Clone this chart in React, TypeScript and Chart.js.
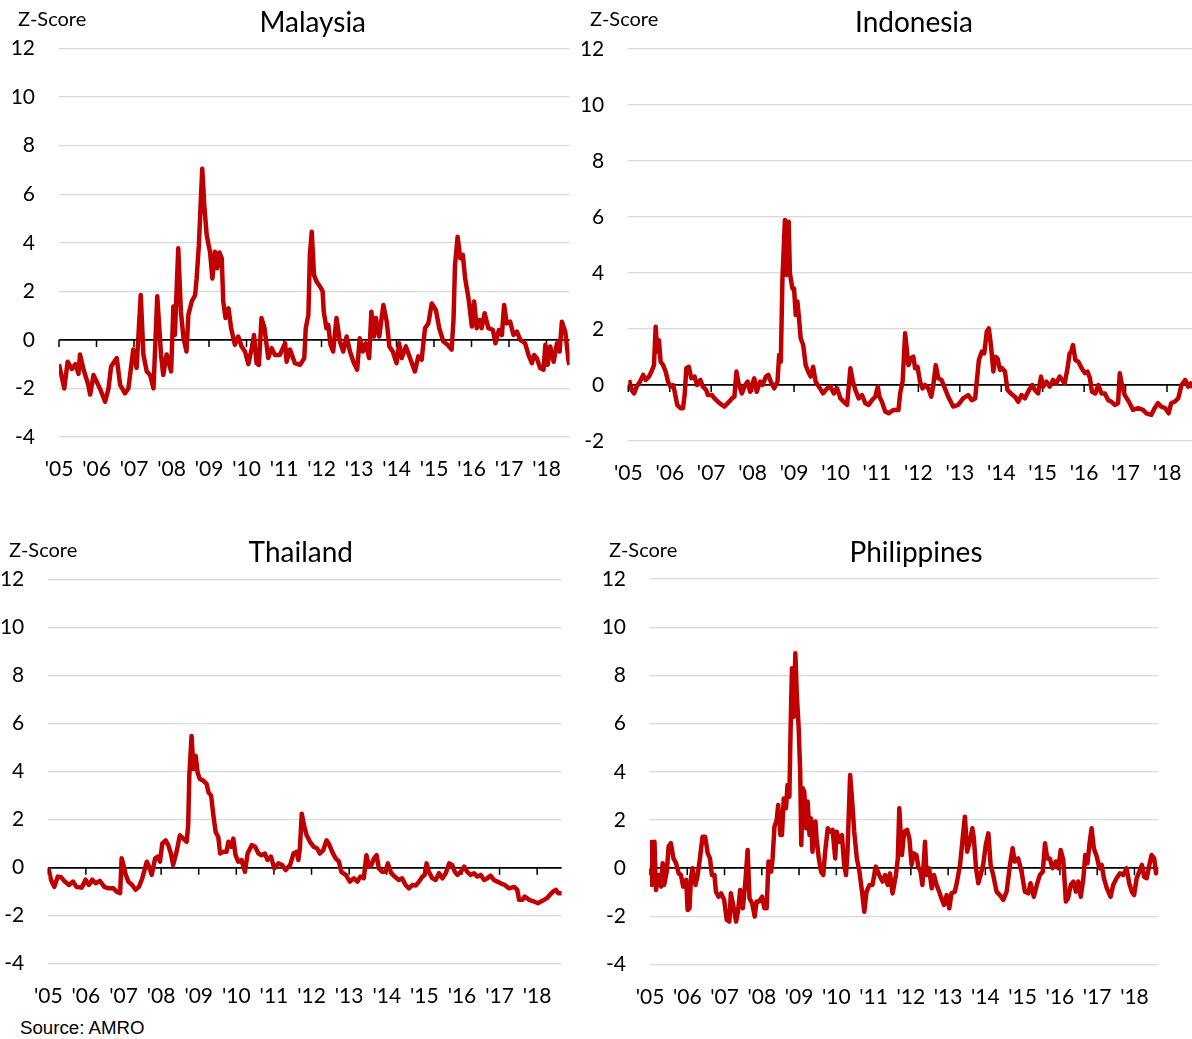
import React, { useEffect, useRef } from "react";
import { Chart, registerables } from "chart.js";

Chart.register(...registerables);

// ---------- data ----------
const tickYears = [2005, 2006, 2007, 2008, 2009, 2010, 2011, 2012, 2013, 2014, 2015, 2016, 2017, 2018];
const tickLabels = ["'05", "'06", "'07", "'08", "'09", "'10", "'11", "'12", "'13", "'14", "'15", "'16", "'17", "'18"];

const malaysiaYears = [
  2005.00, 2005.14, 2005.23, 2005.34, 2005.44, 2005.52, 2005.56, 2005.65, 2005.78, 2005.83,
  2005.92, 2006.09, 2006.23, 2006.32, 2006.39, 2006.54, 2006.63, 2006.76, 2006.85, 2006.92,
  2006.98, 2007.07, 2007.18, 2007.25, 2007.34, 2007.43, 2007.52, 2007.62, 2007.72, 2007.78,
  2007.87, 2007.99, 2008.05, 2008.09, 2008.18, 2008.25, 2008.32, 2008.40, 2008.45, 2008.54,
  2008.63, 2008.67, 2008.73, 2008.78, 2008.82, 2008.88, 2008.94, 2009.03, 2009.09, 2009.16,
  2009.22, 2009.28, 2009.34, 2009.38, 2009.44, 2009.52, 2009.59, 2009.69, 2009.78, 2009.87,
  2009.96, 2010.05, 2010.14, 2010.20, 2010.27, 2010.33, 2010.40, 2010.48, 2010.58, 2010.67,
  2010.76, 2010.89, 2011.03, 2011.07, 2011.16, 2011.29, 2011.43, 2011.54, 2011.58, 2011.65,
  2011.69, 2011.74, 2011.80, 2011.87, 2011.96, 2012.03, 2012.06, 2012.13, 2012.18, 2012.24,
  2012.31, 2012.40, 2012.49, 2012.58, 2012.67, 2012.76, 2012.85, 2012.95, 2013.02, 2013.10,
  2013.18, 2013.27, 2013.33, 2013.40, 2013.45, 2013.54, 2013.65, 2013.74, 2013.81, 2013.90,
  2014.00, 2014.07, 2014.14, 2014.25, 2014.36, 2014.49, 2014.58, 2014.67, 2014.76, 2014.85,
  2014.94, 2015.05, 2015.14, 2015.25, 2015.36, 2015.47, 2015.52, 2015.56, 2015.63, 2015.70,
  2015.77, 2015.83, 2015.92, 2016.01, 2016.07, 2016.14, 2016.21, 2016.27, 2016.35, 2016.45,
  2016.57, 2016.64, 2016.73, 2016.81, 2016.87, 2016.94, 2017.03, 2017.12, 2017.21, 2017.30,
  2017.43, 2017.52, 2017.61, 2017.67, 2017.74, 2017.83, 2017.92, 2017.97, 2018.03, 2018.10,
  2018.19, 2018.28, 2018.35, 2018.41, 2018.50, 2018.59, 2018.61,
];
const malaysiaZ = [
  -1.0, -2.0, -0.9, -1.2, -1.0, -1.4, -0.6, -1.2, -1.85, -2.25,
  -1.45, -2.0, -2.55, -2.0, -1.1, -0.75, -1.85, -2.2, -2.0, -1.15,
  -0.4, -1.15, 1.85, -0.6, -1.3, -1.45, -2.0, 1.8, -0.6, -1.45,
  -0.6, -1.3, 1.37, 0.2, 3.77, 1.16, 0.07, -0.48, 1.03, 1.58,
  1.85, 2.53, 3.9, 5.7, 7.05, 5.4, 4.3, 3.6, 2.53, 3.63,
  2.95, 3.6, 3.36, 1.58, 0.9, 1.3, 0.48, -0.2, 0.14, -0.27,
  -0.48, -1.0, -0.34, 0.2, -0.96, -1.03, 0.9, 0.48, -0.75, -0.34,
  -0.62, -0.62, -0.14, -0.9, -0.4, -0.96, -1.03, -0.75, 0.48, 1.03,
  3.5, 4.45, 2.67, 2.4, 2.2, 2.0, 1.16, 0.48, 0.62, -0.2,
  -0.48, 0.9, -0.07, -0.48, 0.14, -0.48, -0.9, -1.23, 0.07, -0.48,
  -0.14, -0.75, 1.16, 0.14, 0.9, 0.14, 1.44, 0.75, -0.27, -0.48,
  -0.96, -0.14, -0.75, -0.27, -0.75, -1.3, -0.68, -0.82, 0.48, 0.68,
  1.5, 1.23, 0.48, -0.07, -0.2, -0.4, 0.82, 3.08, 4.25, 3.36,
  3.5, 2.53, 1.71, 0.55, 1.58, 0.48, 0.82, 0.48, 1.1, 0.48,
  0.41, -0.14, 0.41, 0.2, 1.44, 0.68, 0.75, 0.2, 0.34, 0.0,
  -0.14, -0.62, -0.96, -0.62, -0.75, -1.16, -1.23, -0.2, -1.03, -0.27,
  -0.9, -0.14, -0.48, 0.75, 0.34, -0.9, -1.03,
];

const indonesiaYears = [
  2005.02, 2005.08, 2005.14, 2005.20, 2005.28, 2005.36, 2005.42, 2005.50, 2005.56, 2005.62,
  2005.66, 2005.70, 2005.74, 2005.78, 2005.84, 2005.90, 2005.96, 2006.02, 2006.08, 2006.12,
  2006.18, 2006.26, 2006.32, 2006.36, 2006.40, 2006.46, 2006.52, 2006.60, 2006.66, 2006.74,
  2006.80, 2006.88, 2006.92, 2007.02, 2007.08, 2007.20, 2007.32, 2007.40, 2007.50, 2007.56,
  2007.61, 2007.66, 2007.74, 2007.82, 2007.88, 2007.94, 2008.04, 2008.10, 2008.18, 2008.24,
  2008.32, 2008.38, 2008.44, 2008.52, 2008.60, 2008.64, 2008.68, 2008.72, 2008.78, 2008.82,
  2008.87, 2008.90, 2008.96, 2009.00, 2009.04, 2009.08, 2009.12, 2009.16, 2009.22, 2009.28,
  2009.34, 2009.40, 2009.46, 2009.52, 2009.60, 2009.70, 2009.80, 2009.88, 2009.96, 2010.04,
  2010.12, 2010.20, 2010.28, 2010.36, 2010.42, 2010.48, 2010.56, 2010.64, 2010.72, 2010.80,
  2010.88, 2010.96, 2011.02, 2011.06, 2011.12, 2011.20, 2011.28, 2011.40, 2011.52, 2011.56,
  2011.62, 2011.68, 2011.76, 2011.82, 2011.88, 2011.92, 2011.98, 2012.04, 2012.10, 2012.16,
  2012.24, 2012.31, 2012.36, 2012.42, 2012.48, 2012.56, 2012.64, 2012.72, 2012.84, 2012.96,
  2013.08, 2013.20, 2013.29, 2013.37, 2013.46, 2013.53, 2013.59, 2013.65, 2013.70, 2013.75,
  2013.81, 2013.86, 2013.91, 2013.97, 2014.02, 2014.09, 2014.15, 2014.23, 2014.33, 2014.41,
  2014.49, 2014.57, 2014.67, 2014.75, 2014.81, 2014.89, 2014.96, 2015.01, 2015.09, 2015.17,
  2015.25, 2015.33, 2015.41, 2015.47, 2015.53, 2015.60, 2015.65, 2015.69, 2015.73, 2015.79,
  2015.86, 2015.94, 2016.02, 2016.08, 2016.14, 2016.19, 2016.27, 2016.34, 2016.42, 2016.50,
  2016.58, 2016.66, 2016.74, 2016.82, 2016.86, 2016.92, 2016.98, 2017.08, 2017.18, 2017.30,
  2017.42, 2017.50, 2017.62, 2017.70, 2017.78, 2017.86, 2017.96, 2018.04, 2018.10, 2018.18,
  2018.27, 2018.35, 2018.44, 2018.51, 2018.57, 2018.62,
];
const indonesiaZ = [
  0.18, -0.18, -0.3, -0.06, 0.12, 0.36, 0.18, 0.3, 0.48, 0.71,
  2.08, 1.19, 1.6, 0.83, 0.71, 0.48, 0.12, -0.06, 0.0, -0.24,
  -0.71, -0.83, -0.83, -0.36, 0.6, 0.65, 0.24, 0.3, 0.0, 0.18,
  -0.06, -0.18, -0.36, -0.36, -0.48, -0.65, -0.77, -0.65, -0.48, -0.42,
  0.48, 0.06, -0.3, 0.0, 0.12, -0.24, 0.24, -0.24, 0.12, 0.0,
  0.3, 0.36, 0.12, -0.12, 0.12, 1.07, 0.83, 3.81, 5.89, 3.93,
  5.83, 3.99, 3.45, 3.45, 2.5, 2.98, 2.38, 1.67, 1.43, 0.71,
  0.48, 0.3, 0.65, 0.12, -0.06, -0.3, -0.12, -0.06, -0.3, -0.12,
  -0.48, -0.6, -0.71, 0.6, 0.12, -0.18, -0.48, -0.36, -0.65, -0.71,
  -0.54, -0.42, -0.06, -0.42, -0.6, -0.95, -1.01, -0.89, -0.89, -0.3,
  0.12, 1.85, 0.71, 0.95, 1.01, 0.6, 0.65, 0.12, -0.12, 0.0,
  -0.12, -0.42, 0.0, 0.71, 0.24, 0.18, -0.12, -0.42, -0.77, -0.71,
  -0.48, -0.36, -0.54, -0.48, 0.89, 1.19, 1.13, 1.9, 2.02, 1.43,
  0.48, 1.01, 0.95, 0.54, 0.6, 0.48, -0.18, -0.3, -0.42, -0.6,
  -0.36, -0.48, -0.18, 0.0, -0.18, -0.3, 0.3, -0.06, 0.12, -0.06,
  0.18, 0.06, 0.3, 0.18, 0.06, 0.6, 1.13, 1.19, 1.43, 0.89,
  0.83, 0.6, 0.42, 0.48, 0.24, -0.24, -0.3, 0.0, -0.3, -0.3,
  -0.54, -0.6, -0.71, -0.65, 0.42, -0.06, -0.36, -0.6, -0.89, -0.83,
  -0.89, -1.01, -1.07, -0.83, -0.65, -0.77, -0.83, -1.01, -0.65, -0.6,
  -0.48, 0.0, 0.18, -0.06, 0.06, -0.1,
];

const thailandYears = [
  2005.00, 2005.07, 2005.16, 2005.25, 2005.34, 2005.44, 2005.55, 2005.66, 2005.75, 2005.89,
  2005.99, 2006.08, 2006.17, 2006.26, 2006.37, 2006.49, 2006.60, 2006.73, 2006.82, 2006.91,
  2006.95, 2007.00, 2007.06, 2007.13, 2007.23, 2007.32, 2007.41, 2007.50, 2007.57, 2007.62,
  2007.68, 2007.75, 2007.84, 2007.91, 2007.97, 2008.03, 2008.12, 2008.19, 2008.26, 2008.32,
  2008.41, 2008.50, 2008.59, 2008.68, 2008.72, 2008.75, 2008.81, 2008.86, 2008.92, 2008.97,
  2009.03, 2009.12, 2009.21, 2009.26, 2009.33, 2009.39, 2009.45, 2009.52, 2009.57, 2009.65,
  2009.74, 2009.79, 2009.86, 2009.92, 2009.98, 2010.05, 2010.14, 2010.19, 2010.23, 2010.30,
  2010.41, 2010.50, 2010.59, 2010.67, 2010.76, 2010.83, 2010.92, 2011.01, 2011.12, 2011.22,
  2011.31, 2011.43, 2011.52, 2011.60, 2011.65, 2011.69, 2011.74, 2011.81, 2011.87, 2011.96,
  2012.06, 2012.15, 2012.22, 2012.31, 2012.40, 2012.46, 2012.55, 2012.64, 2012.73, 2012.79,
  2012.91, 2013.02, 2013.13, 2013.22, 2013.30, 2013.39, 2013.46, 2013.53, 2013.59, 2013.66,
  2013.73, 2013.79, 2013.88, 2013.97, 2014.03, 2014.12, 2014.21, 2014.32, 2014.41, 2014.50,
  2014.59, 2014.68, 2014.77, 2014.86, 2014.95, 2015.01, 2015.06, 2015.12, 2015.21, 2015.30,
  2015.39, 2015.48, 2015.57, 2015.66, 2015.74, 2015.81, 2015.88, 2015.97, 2016.06, 2016.14,
  2016.23, 2016.32, 2016.41, 2016.50, 2016.59, 2016.68, 2016.76, 2016.85, 2016.94, 2017.03,
  2017.14, 2017.25, 2017.39, 2017.47, 2017.52, 2017.61, 2017.67, 2017.79, 2017.92, 2018.02,
  2018.14, 2018.26, 2018.34, 2018.43, 2018.50, 2018.56, 2018.67,
];
const thailandZ = [
  0.0, -0.5, -0.8, -0.37, -0.4, -0.58, -0.72, -0.58, -0.8, -0.83,
  -0.5, -0.72, -0.5, -0.65, -0.55, -0.8, -0.86, -0.86, -1.0, -1.06,
  0.39, 0.11, -0.3, -0.58, -0.72, -0.92, -0.8, -0.44, -0.03, 0.25,
  0.04, -0.3, 0.39, 0.46, 0.25, 1.0, 1.14, 0.94, 0.59, 0.11,
  0.66, 1.35, 1.21, 1.08, 1.77, 3.83, 5.49, 4.11, 4.66, 3.97,
  3.7, 3.63, 3.49, 3.14, 3.0, 2.18, 1.49, 1.28, 0.59, 0.66,
  0.66, 1.08, 0.87, 1.21, 0.52, 0.25, 0.32, 0.04, -0.17, 0.59,
  0.94, 0.87, 0.59, 0.52, 0.59, 0.32, 0.46, -0.03, 0.18, 0.11,
  -0.1, 0.11, 0.59, 0.66, 0.32, 0.8, 2.25, 1.7, 1.35, 1.08,
  0.87, 0.8, 0.59, 0.73, 1.14, 1.0, 0.66, 0.39, 0.25, -0.17,
  -0.3, -0.58, -0.44, -0.58, -0.37, -0.44, 0.52, 0.04, 0.11, 0.39,
  0.52, -0.03, -0.17, -0.17, 0.18, -0.23, -0.37, -0.51, -0.44, -0.72,
  -0.86, -0.72, -0.74, -0.58, -0.37, -0.3, 0.18, -0.17, -0.44, -0.51,
  -0.23, -0.44, -0.23, 0.18, 0.11, -0.17, -0.3, -0.17, 0.04, -0.17,
  -0.3, -0.23, -0.37, -0.3, -0.51, -0.44, -0.33, -0.51, -0.58, -0.65,
  -0.72, -0.86, -0.8, -0.92, -1.34, -1.34, -1.2, -1.34, -1.41, -1.48,
  -1.38, -1.27, -1.13, -0.99, -0.92, -1.06, -1.06,
];

const philippinesYears = [
  2005.02, 2005.05, 2005.12, 2005.16, 2005.23, 2005.30, 2005.34, 2005.38, 2005.45, 2005.50,
  2005.56, 2005.63, 2005.70, 2005.77, 2005.83, 2005.89, 2005.97, 2006.01, 2006.06, 2006.10,
  2006.14, 2006.22, 2006.28, 2006.34, 2006.41, 2006.48, 2006.55, 2006.61, 2006.66, 2006.73,
  2006.77, 2006.84, 2006.91, 2006.99, 2007.06, 2007.13, 2007.17, 2007.24, 2007.31, 2007.36,
  2007.42, 2007.49, 2007.56, 2007.62, 2007.67, 2007.74, 2007.81, 2007.86, 2007.93, 2008.01,
  2008.07, 2008.13, 2008.18, 2008.25, 2008.29, 2008.34, 2008.40, 2008.44, 2008.50, 2008.54,
  2008.59, 2008.65, 2008.69, 2008.74, 2008.78, 2008.81, 2008.86, 2008.90, 2008.94, 2008.99,
  2009.03, 2009.06, 2009.10, 2009.14, 2009.19, 2009.23, 2009.28, 2009.32, 2009.36, 2009.44,
  2009.47, 2009.53, 2009.59, 2009.65, 2009.70, 2009.77, 2009.83, 2009.90, 2009.97, 2010.01,
  2010.08, 2010.15, 2010.21, 2010.26, 2010.30, 2010.37, 2010.42, 2010.48, 2010.55, 2010.62,
  2010.69, 2010.75, 2010.81, 2010.89, 2010.97, 2011.06, 2011.15, 2011.24, 2011.31, 2011.38,
  2011.44, 2011.51, 2011.60, 2011.65, 2011.69, 2011.76, 2011.82, 2011.90, 2011.96, 2012.02,
  2012.08, 2012.15, 2012.20, 2012.26, 2012.31, 2012.38, 2012.42, 2012.49, 2012.56, 2012.62,
  2012.69, 2012.76, 2012.82, 2012.89, 2012.96, 2013.03, 2013.09, 2013.18, 2013.24, 2013.32,
  2013.39, 2013.45, 2013.51, 2013.58, 2013.65, 2013.69, 2013.75, 2013.81, 2013.87, 2013.94,
  2014.01, 2014.08, 2014.14, 2014.21, 2014.30, 2014.39, 2014.48, 2014.57, 2014.66, 2014.73,
  2014.79, 2014.88, 2014.97, 2015.06, 2015.15, 2015.21, 2015.30, 2015.38, 2015.46, 2015.54,
  2015.60, 2015.66, 2015.73, 2015.80, 2015.89, 2015.96, 2016.02, 2016.09, 2016.16, 2016.22,
  2016.29, 2016.36, 2016.43, 2016.49, 2016.56, 2016.63, 2016.68, 2016.74, 2016.79, 2016.85,
  2016.91, 2016.99, 2017.06, 2017.12, 2017.18, 2017.26, 2017.36, 2017.43, 2017.52, 2017.61,
  2017.70, 2017.79, 2017.86, 2017.93, 2017.99, 2018.06, 2018.13, 2018.20, 2018.26, 2018.33,
  2018.40, 2018.46, 2018.53, 2018.58, 2018.64,
];
const philippinesZ = [
  1.18, -0.69, 1.1, -0.9, -0.28, -0.76, 0.21, -0.69, -0.14, 0.9,
  1.04, 0.41, 0.21, -0.21, -0.28, -0.76, -0.48, -1.73, -1.66, -0.41,
  0.0, -0.69, -0.28, 0.41, 1.31, 1.31, 0.62, 0.41, -0.28, -0.28,
  -0.97, -1.18, -1.04, -1.31, -2.14, -2.21, -1.04, -1.59, -2.21, -1.8,
  -0.9, -1.66, -0.55, 0.76, -1.24, -1.45, -2.0, -1.38, -1.38, -1.18,
  -1.66, -1.66, 0.28, -0.14, 0.41, 1.73, 2.0, 2.63, 1.38, 1.38,
  2.9, 2.49, 3.46, 2.97, 6.36, 8.3, 6.29, 8.92, 7.19, 5.81,
  4.01, 0.97, 3.32, 3.18, 1.66, 2.77, 1.38, 2.07, 0.69, 1.94,
  1.24, 0.41, -0.14, -0.28, 0.69, 1.66, 1.52, 1.59, 0.41, 1.52,
  1.1, 1.38, 0.14, -0.28, 0.69, 3.87, 2.9, 1.52, 0.41, -0.14,
  -0.97, -1.8, -0.97, -0.69, -0.69, 0.07, -0.28, -0.55, -0.28, -0.69,
  -0.21, -1.04, -0.28, 0.41, 2.49, 0.55, 1.52, 1.59, 1.24, 0.14,
  0.62, 0.55, 0.07, -0.14, -0.69, 1.1, -0.28, 0.0, -0.83, -0.28,
  -0.69, -0.97, -1.24, -1.52, -1.11, -1.66, -1.04, -0.97, -0.55, 0.14,
  1.24, 2.14, 0.69, 1.1, 1.66, 1.24, 0.0, -0.62, -0.28, 0.14,
  0.97, 1.45, 0.14, -0.28, -0.97, -1.11, -1.31, -0.97, 0.14, 0.83,
  0.28, 0.41, -0.14, -0.97, -1.04, -0.62, -1.18, -0.69, -0.28, -0.14,
  1.04, 0.41, 0.41, 0.0, 0.28, 0.0, 0.76, 0.35, -1.38, -1.24,
  -0.69, -0.55, -0.97, -0.55, -1.18, -0.41, 0.55, 0.21, 0.97, 1.66,
  0.83, 0.48, 0.0, 0.14, -0.41, -0.83, -1.18, -0.69, -0.41, -0.21,
  -0.28, 0.0, -0.62, -0.97, -1.11, -0.41, -0.14, 0.14, -0.35, -0.41,
  0.14, 0.55, 0.41, -0.21, 0.0,
];

// ---------- styling ----------
const FONT = "Lato, 'Open Sans', sans-serif";
const LINE_RED = "#c00000";
const GRID_GREY = "#d9d9d9";

const panelDecor = {
  id: "panelDecor",
  beforeDatasetsDraw(chart: any) {
    const { ctx, scales } = chart;
    const x = scales.x;
    const y = scales.y;
    const y0 = y.getPixelForValue(0);
    ctx.save();
    ctx.strokeStyle = "#000";
    ctx.lineWidth = 1.5;
    ctx.beginPath();
    for (const yr of tickYears) {
      const px = x.getPixelForValue(yr);
      ctx.moveTo(px, y0);
      ctx.lineTo(px, y0 + 7);
    }
    ctx.stroke();
    ctx.restore();
  },
  afterDraw(chart: any, _args: any, opts: any) {
    const ctx = chart.ctx;
    ctx.save();
    ctx.fillStyle = "#000";
    ctx.textBaseline = "alphabetic";
    ctx.font = `28px ${FONT}`;
    ctx.textAlign = "center";
    ctx.fillText(opts.title, opts.titleX, opts.titleY);
    ctx.font = `20px ${FONT}`;
    ctx.textAlign = "left";
    ctx.fillText("Z-Score", opts.zX, opts.zY);
    ctx.restore();
  },
};

type PanelProps = {
  title: string;
  years: number[];
  values: number[];
  yMin: number;
  xMax: number;
  left: number;
  top: number;
  w: number;
  h: number;
  yAxisWidth: number;
  areaTop: number;
  xAxisHeight: number;
  padRight: number;
  titleX: number;
  zX: number;
  zY: number;
};

function Panel(p: PanelProps) {
  const ref = useRef<HTMLCanvasElement>(null);
  useEffect(() => {
    if (!ref.current) return;
    const chart = new Chart(ref.current, {
      type: "line",
      data: {
        datasets: [
          {
            data: p.years.map((x, i) => ({ x, y: p.values[i] })),
            borderColor: LINE_RED,
            borderWidth: 4.5,
            pointRadius: 0,
            tension: 0,
            fill: false,
            borderJoinStyle: "round",
          },
        ],
      },
      options: {
        responsive: false,
        animation: false,
        devicePixelRatio: 1,
        layout: { padding: { left: 0, top: p.areaTop, right: p.padRight, bottom: 0 } },
        plugins: {
          legend: { display: false },
          tooltip: { enabled: false },
          panelDecor: { title: p.title, titleX: p.titleX, titleY: 32.3, zX: p.zX, zY: p.zY },
        } as any,
        scales: {
          x: {
            type: "linear",
            min: 2005,
            max: p.xMax,
            afterBuildTicks: (s: any) => {
              s.ticks = tickYears.map((v) => ({ value: v }));
            },
            afterFit: (s: any) => {
              s.height = p.xAxisHeight;
            },
            grid: {
              display: true,
              drawOnChartArea: false,
              drawTicks: true,
              tickLength: 20,
              color: "rgba(0,0,0,0)",
            },
            border: { display: false },
            ticks: {
              autoSkip: false,
              maxRotation: 0,
              minRotation: 0,
              padding: 0,
              color: "#000",
              font: { family: FONT, size: 21 },
              callback: (_v: any, i: number) => tickLabels[i],
            },
          },
          y: {
            min: p.yMin,
            max: 12,
            afterFit: (s: any) => {
              s.width = p.yAxisWidth;
            },
            grid: {
              color: (c: any) => (c.tick && c.tick.value === 0 ? "#000" : GRID_GREY),
              lineWidth: (c: any) => (c.tick && c.tick.value === 0 ? 1.75 : 1.3),
              drawTicks: false,
            },
            border: { display: false },
            ticks: {
              stepSize: 2,
              padding: 24,
              color: "#000",
              font: { family: FONT, size: 21 },
            },
          },
        },
      },
      plugins: [panelDecor as any],
    });
    return () => chart.destroy();
  }, []);
  return (
    <canvas
      ref={ref}
      width={p.w}
      height={p.h}
      style={{ position: "absolute", left: p.left, top: p.top, width: p.w, height: p.h }}
    />
  );
}

export default function App() {
  return (
    <div
      style={{
        position: "absolute",
        left: 0,
        top: 0,
        width: 1192,
        height: 1039,
        overflow: "hidden",
        background: "#fff",
      }}
    >
      <Panel
        title="Malaysia"
        years={malaysiaYears}
        values={malaysiaZ}
        yMin={-4}
        xMax={2018.616}
        left={0}
        top={0}
        w={580}
        h={500}
        yAxisWidth={59}
        areaTop={48.5}
        xAxisHeight={63}
        padRight={10.4}
        titleX={312.7}
        zX={18}
        zY={26}
      />
      <Panel
        title="Indonesia"
        years={indonesiaYears}
        values={indonesiaZ}
        yMin={-2}
        xMax={2018.62}
        left={580}
        top={0}
        w={660}
        h={500}
        yAxisWidth={48.3}
        areaTop={49}
        xAxisHeight={59}
        padRight={47.3}
        titleX={334}
        zX={10}
        zY={26}
      />
      <Panel
        title="Thailand"
        years={thailandYears}
        values={thailandZ}
        yMin={-4}
        xMax={2018.65}
        left={0}
        top={530}
        w={580}
        h={480}
        yAxisWidth={48.3}
        areaTop={49.7}
        xAxisHeight={46.3}
        padRight={18.4}
        titleX={300.8}
        zX={9}
        zY={27}
      />
      <Panel
        title="Philippines"
        years={philippinesYears}
        values={philippinesZ}
        yMin={-4}
        xMax={2018.64}
        left={596}
        top={530}
        w={596}
        h={480}
        yAxisWidth={54}
        areaTop={49.1}
        xAxisHeight={45.3}
        padRight={33.7}
        titleX={320}
        zX={13}
        zY={27}
      />
      <div
        style={{
          position: "absolute",
          left: 20,
          top: 1019,
          fontFamily: "'Liberation Sans', Arial, sans-serif",
          fontSize: 18.7,
          lineHeight: "18px",
          color: "#000",
          whiteSpace: "nowrap",
        }}
      >
        Source: AMRO
      </div>
    </div>
  );
}
